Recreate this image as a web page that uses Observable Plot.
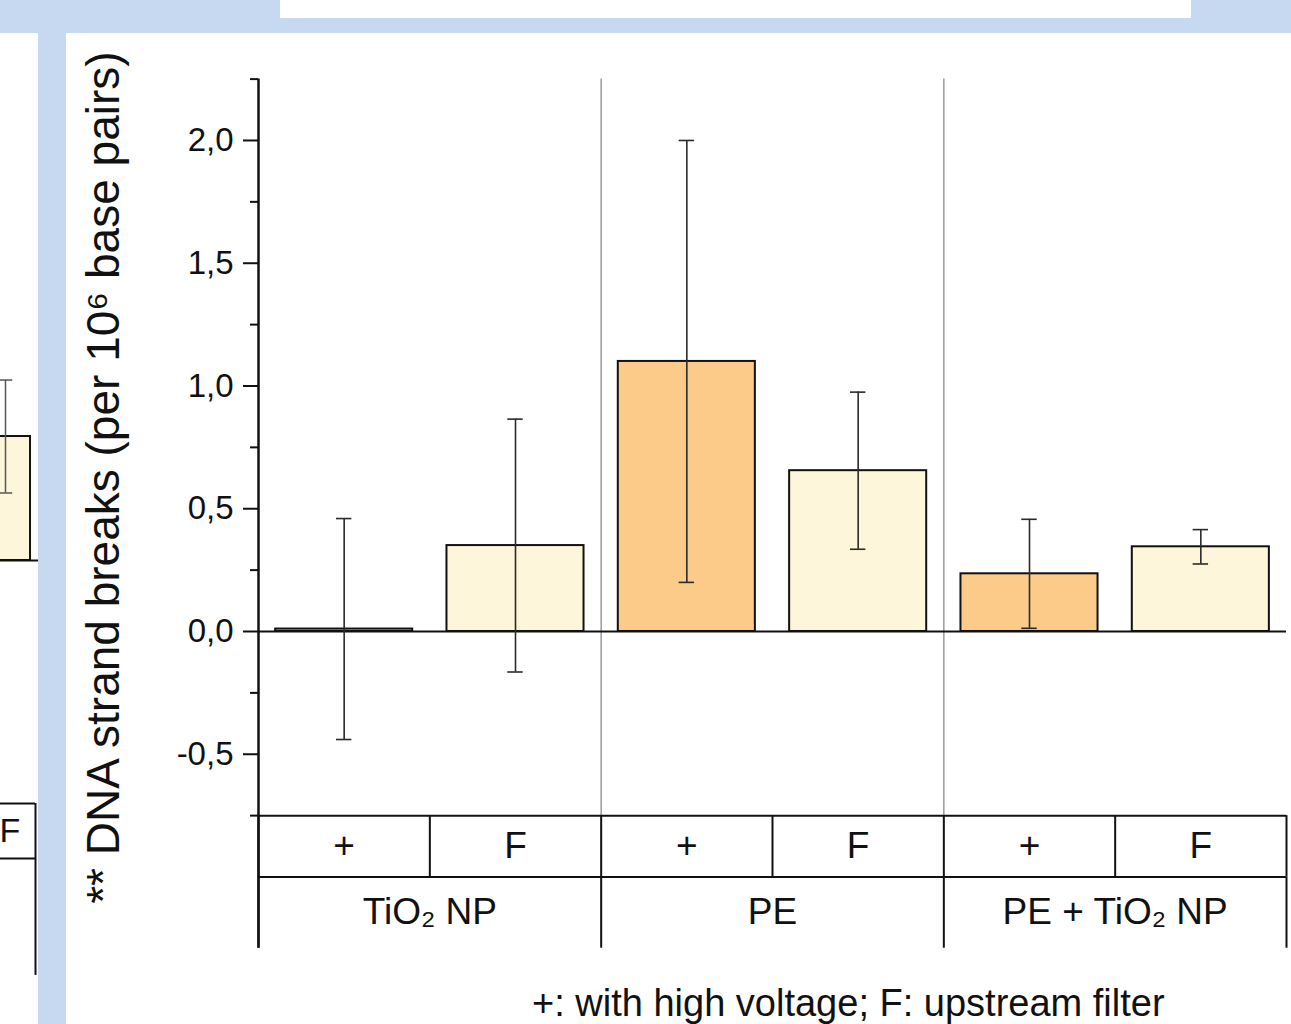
<!DOCTYPE html>
<html>
<head>
<meta charset="utf-8">
<script src="https://cdn.jsdelivr.net/npm/d3@7"></script>
<script src="https://cdn.jsdelivr.net/npm/@observablehq/plot@0.6"></script>
<style>
  html, body { margin: 0; padding: 0; }
  body { width: 1291px; height: 1024px; overflow: hidden; background: #c6d9f0; position: relative;
         font-family: "Liberation Sans", Arial, sans-serif; }
  .panel { position: absolute; background: #ffffff; }
  #main { position: absolute; left: 66px; top: 33px; }
  #side { position: absolute; left: 0px; top: 33px; }
  #caption { position: absolute; left: 532px; top: 984px; font-size: 38px; line-height: 38px;
             color: #111; white-space: nowrap; }
</style>
</head>
<body>
<div class="panel" style="left:280px;top:0px;width:911px;height:18px;"></div>
<div class="panel" style="left:0px;top:33px;width:38px;height:991px;"></div>
<div class="panel" style="left:66px;top:33px;width:1225px;height:991px;"></div>
<div id="side"></div>
<div id="main"></div>
<div id="caption"></div>
<script>
// ---- data (main panel) ----
const groups = ["TiO₂ NP", "PE", "PE + TiO₂ NP"];
const conditions = ["+", "F", "+", "F", "+", "F"];
const means = [0.01, 0.35, 1.10, 0.655, 0.235, 0.345];
const errors = [0.45, 0.515, 0.90, 0.32, 0.222, 0.07];
const yTicks = [-0.5, 0, 0.5, 1.0, 1.5, 2.0];
const yMinorTicks = [-0.75, -0.25, 0.25, 0.75, 1.25, 1.75, 2.25];
const yLabel = "** DNA strand breaks (per 10⁶ base pairs)";
const captionText = "+: with high voltage; F: upstream filter";

// ---- data (edge of the neighbouring panel, cut off at the left) ----
const sideConditions = ["F"];
const sideMeans = [0.505];
const sideErrors = [0.23];

const fill = {"+": "#fccb8a", "F": "#fef6da"};
const fmt = d => d.toFixed(1).replace(".", ",");

const rows = conditions.map((c, i) => ({
  i, cond: c, group: groups[Math.floor(i / 2)], mean: means[i], err: errors[i]
}));

const axisBottom = -0.75, axisTop = 2.25;   // y-axis extent
const tableMid = -1.0, tableBottom = -1.29; // category table rows under the axis
const cap = 0.045;

const chart = Plot.plot({
  width: 1225,
  height: 945,
  marginLeft: 192,
  marginRight: 5,
  marginTop: 45.6,
  marginBottom: 30.3,
  style: {background: "transparent", fontFamily: "'Liberation Sans', Arial, sans-serif", color: "#111", overflow: "visible"},
  x: {domain: [0, conditions.length], axis: null},
  y: {domain: [tableBottom, axisTop], axis: null, label: null},
  marks: [
    // group separators inside plot
    Plot.ruleX([2, 4], {y1: axisBottom, y2: axisTop, stroke: "#9a9a9a", strokeWidth: 1.5}),
    // bars
    Plot.rect(rows, {x1: d => d.i + 0.1, x2: d => d.i + 0.9, y1: 0, y2: "mean",
      fill: d => fill[d.cond], stroke: "#111", strokeWidth: 2}),
    // zero line
    Plot.ruleY([0], {x1: 0, x2: conditions.length, stroke: "#111", strokeWidth: 2}),
    // error bars
    Plot.ruleX(rows, {x: d => d.i + 0.5, y1: d => d.mean - d.err, y2: d => d.mean + d.err, stroke: "#2a2a2a", strokeWidth: 1.6}),
    Plot.ruleY(rows, {y: d => d.mean + d.err, x1: d => d.i + 0.5 - cap, x2: d => d.i + 0.5 + cap, stroke: "#2a2a2a", strokeWidth: 1.6}),
    Plot.ruleY(rows, {y: d => d.mean - d.err, x1: d => d.i + 0.5 - cap, x2: d => d.i + 0.5 + cap, stroke: "#2a2a2a", strokeWidth: 1.6}),
    // y axis
    Plot.axisY({ticks: yTicks, tickSize: 15, tickPadding: 10, tickFormat: fmt, fontSize: 33, strokeWidth: 2, label: null}),
    Plot.axisY({ticks: yMinorTicks, tickSize: 8, tickFormat: () => "", strokeWidth: 2, label: null}),
    Plot.ruleX([0], {y1: tableBottom, y2: axisTop, stroke: "#111", strokeWidth: 2.5}),
    // category table
    Plot.ruleY([axisBottom, tableMid], {x1: 0, x2: conditions.length, stroke: "#111", strokeWidth: 2}),
    Plot.ruleX(d3.range(conditions.length + 1), {y1: axisBottom, y2: tableMid, stroke: "#111", strokeWidth: 2}),
    Plot.ruleX(d3.range(0, conditions.length + 1, 2), {y1: tableMid, y2: tableBottom, stroke: "#111", strokeWidth: 2}),
    Plot.text(rows, {x: d => d.i + 0.5, y: (axisBottom + tableMid) / 2, text: "cond", fontSize: 37, fill: "#111"}),
    Plot.text(groups, {x: (d, i) => 2 * i + 1, y: (tableMid + tableBottom) / 2, text: d => d, fontSize: 37, fill: "#111"}),
    // y label
    Plot.text([yLabel], {frameAnchor: "left", textAnchor: "middle", rotate: -90, dx: -154, dy: -36,
      fontSize: 46, fill: "#111"})
  ]
});
document.getElementById("main").appendChild(chart);

// neighbouring panel fragment
const sideRows = sideConditions.map((c, i) => ({cond: c, mean: sideMeans[i], err: sideErrors[i]}));
const side = Plot.plot({
  width: 38,
  height: 991,
  margin: 0,
  style: {background: "transparent", fontFamily: "'Liberation Sans', Arial, sans-serif", color: "#111", overflow: "hidden"},
  x: {domain: [0, 1], range: [-25, 35], axis: null},
  y: {domain: [-1.69, 0.8], range: [941.9, 330.6], axis: null, label: null},
  marks: [
    Plot.rect(sideRows, {x1: 0.083, x2: 0.917, y1: 0, y2: "mean", fill: d => fill[d.cond], stroke: "#111", strokeWidth: 2}),
    Plot.ruleY([0], {x1: 0, x2: 1.1, stroke: "#111", strokeWidth: 2}),
    Plot.ruleX(sideRows, {x: 0.5, y1: d => d.mean - d.err, y2: d => d.mean + d.err, stroke: "#555", strokeWidth: 1.5}),
    Plot.ruleY(sideRows, {y: d => d.mean + d.err, x1: 0.5 - 0.12, x2: 0.5 + 0.12, stroke: "#555", strokeWidth: 1.5}),
    Plot.ruleY(sideRows, {y: d => d.mean - d.err, x1: 0.5 - 0.12, x2: 0.5 + 0.12, stroke: "#555", strokeWidth: 1.5}),
    Plot.ruleY([-0.99, -1.214], {x1: 0, x2: 1, stroke: "#111", strokeWidth: 2}),
    Plot.ruleX([1], {y1: -0.99, y2: -1.69, stroke: "#111", strokeWidth: 2}),
    Plot.text(sideRows, {x: 0.40, y: (-0.99 + -1.214) / 2, text: "cond", textAnchor: "start", fontSize: 34, fill: "#111"})
  ]
});
document.getElementById("side").appendChild(side);
document.getElementById("caption").textContent = captionText;
</script>
</body>
</html>
